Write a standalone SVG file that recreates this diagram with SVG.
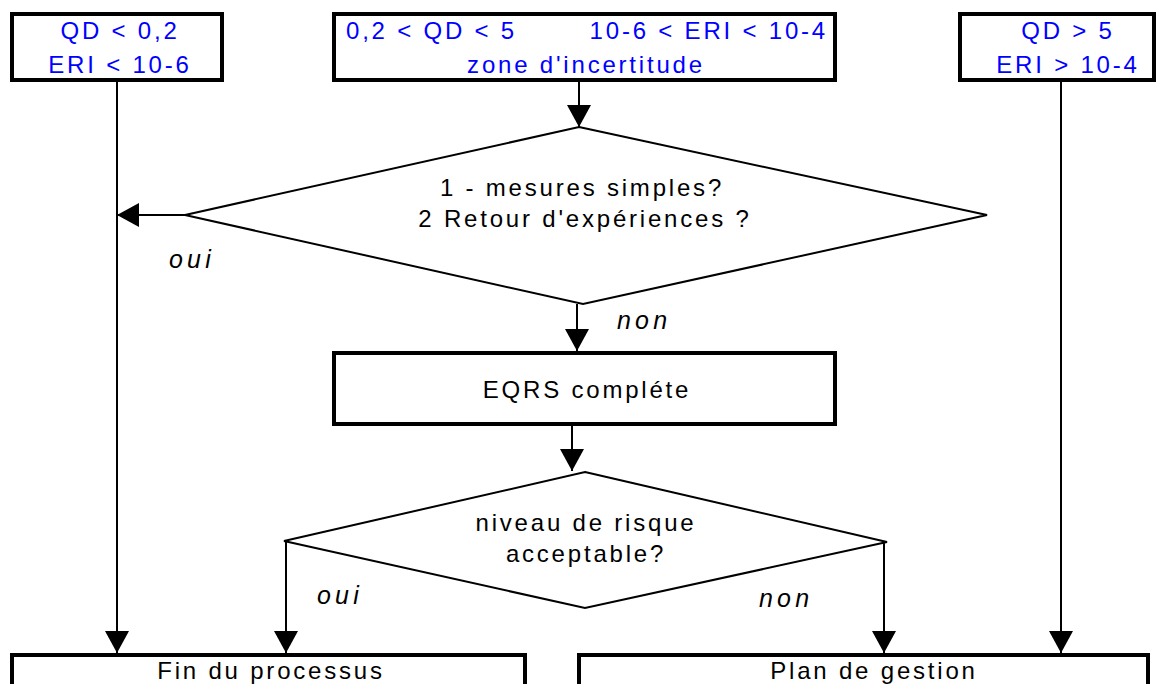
<svg xmlns="http://www.w3.org/2000/svg" width="1158" height="684" viewBox="0 0 1158 684">
  <style>
    .box { fill: #ffffff; stroke: #000000; stroke-width: 4; }
    .dia { fill: #ffffff; stroke: #000000; stroke-width: 2; }
    .link { fill: none; stroke: #000000; stroke-width: 2; marker-end: url(#arrow); }
    text { font-family: "Liberation Sans", Arial, sans-serif; font-size: 24px; letter-spacing: 2.8px; }
    .blue { fill: #0000ff; }
    .dark { fill: #000000; }
    .lbl { fill: #000000; font-style: italic; font-size: 25px; letter-spacing: 4.2px; }
    .mid { text-anchor: middle; }
  </style>
  <defs>
    <marker id="arrow" viewBox="0 0 22 24" refX="22" refY="12" markerWidth="22" markerHeight="24" markerUnits="userSpaceOnUse" orient="auto">
      <path d="M0,0 L22,12 L0,24 z" fill="#000000"/>
    </marker>
  </defs>

  <rect width="1158" height="684" fill="#ffffff"/>

  <!-- connectors -->
  <g id="connectors">
    <line class="link" x1="117" y1="82" x2="117" y2="653"/>
    <line class="link" x1="579" y1="82" x2="579" y2="127"/>
    <line class="link" x1="185" y1="215" x2="117" y2="215"/>
    <line class="link" x1="577" y1="304" x2="577" y2="351"/>
    <line class="link" x1="572" y1="425" x2="572" y2="471"/>
    <line class="link" x1="286" y1="541" x2="286" y2="653"/>
    <line class="link" x1="884" y1="542" x2="884" y2="653"/>
    <line class="link" x1="1061" y1="82" x2="1061" y2="653"/>
  </g>

  <!-- threshold boxes -->
  <g id="low">
    <rect class="box" x="12" y="14" width="210" height="66"/>
    <text class="blue mid" x="120" y="39">QD &lt; 0,2</text>
    <text class="blue mid" x="120" y="73">ERI &lt; 10-6</text>
  </g>
  <g id="uncertain">
    <rect class="box" x="334" y="14" width="501" height="66"/>
    <text class="blue" x="346" y="39">0,2 &lt; QD &lt; 5</text>
    <text class="blue" x="828" y="39" text-anchor="end">10-6 &lt; ERI &lt; 10-4</text>
    <text class="blue mid" x="586" y="73">zone d'incertitude</text>
  </g>
  <g id="high">
    <rect class="box" x="960" y="14" width="194" height="66"/>
    <text class="blue mid" x="1068" y="39">QD &gt; 5</text>
    <text class="blue mid" x="1068" y="73">ERI &gt; 10-4</text>
  </g>

  <!-- first decision -->
  <g id="simple-check">
    <polygon class="dia" points="579,127 987,215 583,304 185,215"/>
    <text class="dark mid" x="582" y="196">1 - mesures simples?</text>
    <text class="dark mid" x="585" y="227">2 Retour d'expériences ?</text>
  </g>
  <text class="lbl" x="169" y="268">oui</text>
  <text class="lbl" x="617" y="329">non</text>

  <g id="eqrs">
    <rect class="box" x="334" y="353" width="501" height="71"/>
    <text class="dark mid" x="587" y="398">EQRS compléte</text>
  </g>

  <!-- second decision -->
  <g id="risk-check">
    <polygon class="dia" points="585,472 887,542 585,608 284,541"/>
    <text class="dark mid" x="586" y="531">niveau de risque</text>
    <text class="dark mid" x="586" y="562">acceptable?</text>
  </g>
  <text class="lbl" x="317" y="604">oui</text>
  <text class="lbl" x="759" y="607">non</text>

  <!-- outcomes -->
  <g id="end">
    <rect class="box" x="12" y="655" width="513" height="40"/>
    <text class="dark mid" x="271" y="679">Fin du processus</text>
  </g>
  <g id="plan">
    <rect class="box" x="579" y="655" width="569" height="40"/>
    <text class="dark mid" x="874" y="679">Plan de gestion</text>
  </g>
</svg>
